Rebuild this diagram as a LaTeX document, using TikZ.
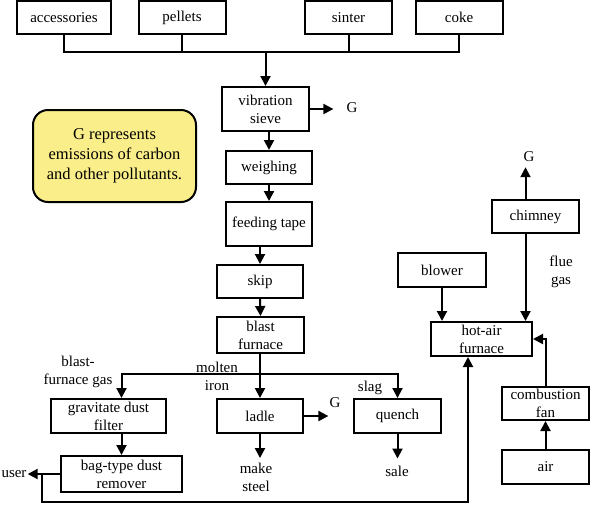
\documentclass[tikz,border=0pt]{standalone}
\usepackage{fontspec}
\setmainfont{Liberation Serif}
\newfontfamily\flowfont{Liberation Serif}
\usetikzlibrary{arrows.meta,calc}
\definecolor{noteyellow}{RGB}{250,238,138}
\tikzset{
	box/.style={draw, line width=2pt, align=center, inner sep=1pt, font=\flowfont\fontsize{15}{18}\selectfont},
	lab/.style={align=center, inner sep=1pt, font=\flowfont\fontsize{15}{18}\selectfont},
	flow/.style={line width=2pt, -{Triangle[length=10pt,width=10pt]}},
	bus/.style={line width=2pt}
}
\begin{document}
\begin{tikzpicture}[x=1pt,y=-1pt]
	\useasboundingbox (0,0) rectangle (593,507);
	% raw materials
	\node[box, minimum width=94pt, minimum height=33pt] (acc) at (64,17.5) {accessories};
	\node[box, minimum width=87pt, minimum height=33pt] (pel) at (182,17.5) {pellets};
	\node[box, minimum width=87pt, minimum height=33pt] (sin) at (348.5,17.5) {sinter};
	\node[box, minimum width=87pt, minimum height=33pt] (coke) at (459,17.5) {coke};
	\coordinate (feedbus) at (265.5,52);
	\draw [bus] (acc.south) -- (acc.south |- feedbus) -- (coke.south |- feedbus) -- (coke.south);
	\draw [bus] (pel.south) -- (pel.south |- feedbus);
	\draw [bus] (sin.south) -- (sin.south |- feedbus);
	% main line
	\node[box, minimum width=87pt, minimum height=44pt] (vib) at (265.5,109) {vibration\\sieve};
	\node[lab] (gvib) at (352,108) {G};
	\node[box, minimum width=86pt, minimum height=33pt] (weigh) at (269,167.5) {weighing};
	\node[box, minimum width=86pt, minimum height=44pt] (feed) at (269,224) {feeding tape};
	\node[box, minimum width=86pt, minimum height=33pt] (skip) at (260,281.5) {skip};
	\node[box, minimum width=87pt, minimum height=36pt] (bf) at (260.5,335) {blast\\furnace};
	\draw [flow] (feedbus) -- (vib.north);
	\draw [flow, shorten >=12pt] (vib.east) -- (vib.east -| gvib.west);
	\draw [flow] (weigh.north |- vib.south) -- (weigh.north);
	\draw [flow] (weigh.south) -- (feed.north);
	\draw [flow] (skip.north |- feed.south) -- (skip.north);
	\draw [flow] (skip.south) -- (bf.north);
	% note
	\node[draw, line width=2pt, fill=noteyellow, rounded corners=15pt, align=center,
		minimum width=163pt, minimum height=92pt, font=\flowfont\fontsize{16.5}{20}\selectfont] (note) at (114.5,156)
		{G represents\\emissions of carbon\\and other pollutants.};
	% products of the blast furnace
	\node[box, minimum width=86pt, minimum height=34pt] (ladle) at (260,416) {ladle};
	\node[box, minimum width=115pt, minimum height=34pt] (grav) at (108.5,416) {gravitate dust\\filter};
	\node[box, minimum width=121pt, minimum height=36pt] (bag) at (121.5,474) {bag-type dust\\remover};
	\node[box, minimum width=87pt, minimum height=34pt] (quench) at (397.5,416) {quench};
	\node[lab] (gladle) at (335,403) {G};
	\node[lab] (steel) at (256,477.5) {make\\steel};
	\node[lab] (sale) at (397,471) {sale};
	\node[lab] (user) at (14,474) {user};
	\node[lab] at (78,372) {blast-\\furnace gas};
	\node[lab] at (217,376.5) {molten\\iron};
	\node[lab] at (370,388) {slag};
	\coordinate (split) at (260,374);
	\draw [flow] (ladle.north |- bf.south) -- (ladle.north);
	\draw [flow] (split) -| (grav.north -| bag.north);
	\draw [flow] (split) -| (quench.north);
	\draw [flow] (grav.south -| bag.north) -- (bag.north);
	\draw [flow] (ladle.east) -- (ladle.east -| gladle.west);
	\draw [flow, shorten >=4pt] (ladle.south) -- (ladle.south |- steel.north);
	\draw [flow, shorten >=6pt] (quench.south) -- (quench.south |- sale.north);
	\draw [flow] (bag.west) -- (user.east);
	% hot-air furnace
	\node[box, minimum width=101pt, minimum height=34pt] (hot) at (481.5,339) {hot-air\\furnace};
	\node[box, minimum width=88pt, minimum height=34pt] (blower) at (442,270) {blower};
	\node[box, minimum width=87pt, minimum height=33pt] (chim) at (535.5,216.5) {chimney};
	\node[lab] (gchim) at (529,157) {G};
	\node[lab] at (561,272) {flue\\gas};
	\node[box, minimum width=87pt, minimum height=33pt] (comb) at (545.5,403.5) {combustion\\fan};
	\node[box, minimum width=87pt, minimum height=34pt] (air) at (545.5,467) {air};
	\coordinate (flue) at ($(chim.south)+(-10,0)$);
	\coordinate (gasback) at (42,474);
	\coordinate (hotin) at (468,502);
	\draw [flow] (blower.south) -- (blower.south |- hot.north);
	\draw [flow] (flue) -- (flue |- hot.north);
	\draw [flow, shorten >=4pt] (flue |- chim.north) -- (flue |- gchim.south);
	\draw [flow] (air.north) -- (comb.south);
	\draw [flow] (comb.north) |- (hot.east);
	\draw [flow] (gasback) |- (hotin) -- (hotin |- hot.south);
\end{tikzpicture}
\end{document}
